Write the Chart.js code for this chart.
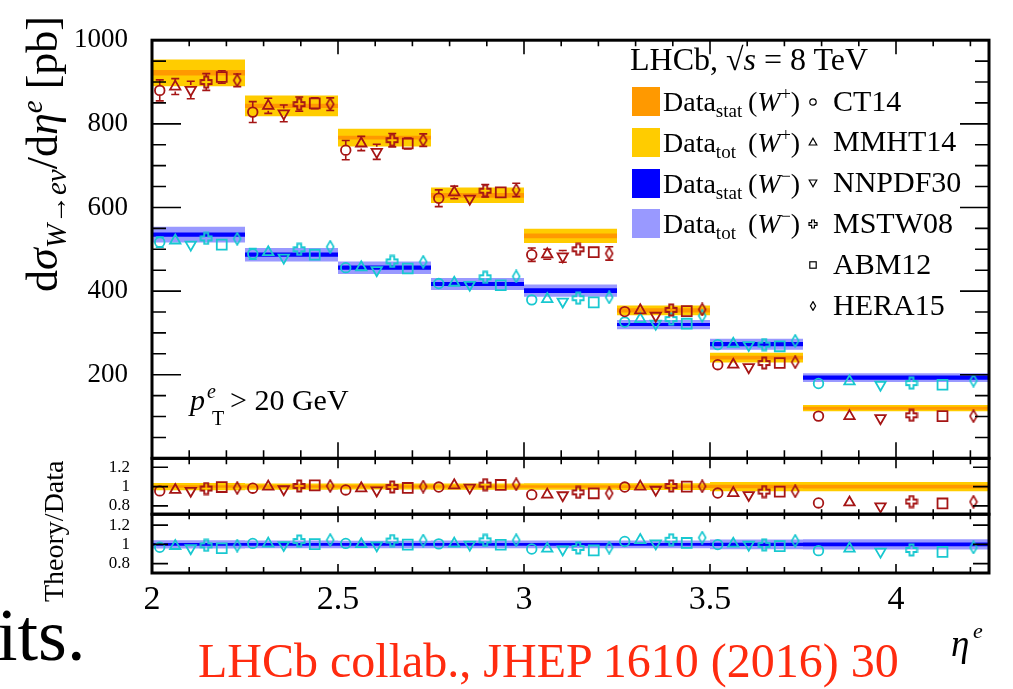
<!DOCTYPE html>
<html>
<head>
<meta charset="utf-8">
<script src="https://cdn.jsdelivr.net/npm/chart.js@4.4.0/dist/chart.umd.min.js"></script>
<style>
  body { margin: 0; background: #fff; }
  #wrap { position: relative; width: 1013px; height: 689px; overflow: hidden; background: #fff;
          font-family: "Liberation Serif", "DejaVu Serif", serif; color: #000; }
  #myChart { position: absolute; left: 0; top: 0; }
  .t { position: absolute; white-space: nowrap; line-height: 1; }
  .sub { font-size: 0.66em; position: relative; top: 0.3em; }
  .sup { font-size: 0.66em; position: relative; top: -0.5em; }
  .sw { position: absolute; width: 28px; height: 29px; }
  .mk { position: absolute; width: 10px; height: 10px; }
</style>
</head>
<body>
<div id="wrap">
  <canvas id="myChart" width="1013" height="689"></canvas>

  <div class="t" style="left:21px;top:292px;font-size:44px;transform-origin:0 0;transform:rotate(-90deg)">d<i>σ</i><span class="sub"><i>W</i>→<i>eν</i></span>/d<i>η</i><span class="sup"><i>e</i></span> [pb]</div>
  <div class="t" style="left:40px;top:602px;font-size:28px;transform-origin:0 0;transform:rotate(-90deg)">Theory/Data</div>

  <div class="t" style="left:630px;top:43px;font-size:32px">LHCb, √<i style="border-top:1.5px solid #000">s</i> = 8 TeV</div>
  <div id="legend"></div>

  <div class="t" style="left:190px;top:385px;font-size:30px"><i>p</i></div>
  <div class="t" style="left:207px;top:381px;font-size:20px"><i>e</i></div>
  <div class="t" style="left:212px;top:408px;font-size:20px">T</div>
  <div class="t" style="left:230px;top:385px;font-size:30px">&gt; 20 GeV</div>

  <div class="t" style="left:951px;top:625px;font-size:37px"><i>η</i></div>
  <div class="t" style="left:973px;top:620px;font-size:22px"><i>e</i></div>

  <div class="t" style="left:-3px;top:598px;font-size:74px">its.</div>
  <div class="t" style="left:198px;top:637px;font-size:48px;color:#ff2b0f">LHCb collab., JHEP 1610 (2016) 30</div>
</div>

<script>
// eta bin edges and axis tick labels
var binEdges = [2.0, 2.25, 2.5, 2.75, 3.0, 3.25, 3.5, 3.75, 4.25];
var xTickLabels = [2, 2.5, 3, 3.5, 4];
var yTickLabels = [200, 400, 600, 800, 1000];
var ratioTickLabels = [0.8, 1, 1.2];
var models = ["CT14", "MMHT14", "NNPDF30", "MSTW08", "ABM12", "HERA15"];

// measured dsigma/deta [pb], central value, stat and total uncertainty
var wpData = [922, 843, 767, 629, 532, 354, 241, 120];
var wpStat = [6.5, 5, 4.5, 5.5, 5.5, 5, 4.5, 3.5];
var wpTot  = [32, 25, 21.5, 18.5, 17, 11.5, 11.5, 7.5];
var wmData = [535, 487, 456, 417, 401, 320, 273, 193];
var wmStat = [5, 5, 5, 5, 5.5, 3.5, 5, 5];
var wmTot  = [19, 16, 15, 14.5, 14.5, 11, 13, 10.5];

// theory predictions, one row per model (same order as models)
var wpTheory = [
  [880, 828, 737, 622, 487, 351, 224, 101],
  [889, 843, 753, 636, 488, 354, 224, 101],
  [881, 825, 733, 621, 483, 341, 218, 96],
  [900, 847, 761, 640, 500, 355, 228, 103],
  [912, 849, 753, 636, 493, 352, 228, 101],
  [904, 847, 761, 642, 490, 356, 230, 101]
];
var wpTheoryErr = [
  [25, 25, 23, 20, 16, 9, 4, 3],
  [19, 18, 17, 15, 12, 8, 4, 3],
  [21, 20, 18, 8, 14, 6, 5, 3],
  [20, 17, 16, 15, 11, 8, 5, 3],
  [15, 13, 13, 10, 8, 5, 3, 2],
  [15, 15, 15, 16, 16, 10, 8, 6]
];
var wmTheory = [
  [517, 489, 456, 418, 379, 326, 272, 179],
  [521, 493, 457, 420, 381, 333, 274, 184],
  [511, 480, 450, 415, 375, 322, 271, 176],
  [526, 500, 471, 433, 383, 333, 272, 180],
  [511, 487, 454, 414, 373, 322, 268, 176],
  [525, 506, 470, 435, 385, 341, 281, 186]
];
var wmTheoryErr = [
  [12, 13, 10, 8, 6, 5, 4, 3],
  [10, 10, 8, 7, 5, 5, 4, 3],
  [11, 11, 9, 8, 6, 5, 4, 3],
  [10, 12, 9, 8, 6, 5, 4, 3],
  [6, 6, 5, 5, 4, 3, 3, 2],
  [10, 10, 9, 8, 8, 7, 6, 5]
];

// theory/data ratios
var wpRatio = [
  [0.955, 0.983, 0.965, 0.995, 0.916, 0.995, 0.933, 0.83],
  [0.965, 1.0, 0.982, 1.013, 0.916, 1.0, 0.933, 0.835],
  [0.956, 0.972, 0.96, 0.99, 0.91, 0.967, 0.912, 0.795],
  [0.98, 1.006, 0.996, 1.02, 0.94, 1.006, 0.948, 0.845],
  [0.995, 1.012, 0.986, 1.017, 0.93, 1.0, 0.948, 0.825],
  [0.985, 1.006, 1.0, 1.024, 0.93, 1.003, 0.952, 0.842]
];
var wmRatio = [
  [0.97, 1.01, 1.01, 1.005, 0.952, 1.03, 0.998, 0.935],
  [0.983, 1.008, 1.002, 1.008, 0.955, 1.045, 1.007, 0.957],
  [0.96, 0.993, 0.99, 0.997, 0.947, 1.011, 0.996, 0.925],
  [0.99, 1.035, 1.04, 1.042, 0.963, 1.048, 0.995, 0.942],
  [0.96, 1.003, 0.998, 0.996, 0.937, 1.015, 0.982, 0.922],
  [0.987, 1.045, 1.04, 1.043, 0.966, 1.07, 1.037, 0.968]
];
var wpRatioStat = [0.013, 0.013, 0.013, 0.013, 0.013, 0.015, 0.018, 0.02];
var wpRatioTot  = [0.037, 0.033, 0.031, 0.032, 0.034, 0.035, 0.048, 0.048];
var wmRatioStat = [0.014, 0.014, 0.014, 0.014, 0.015, 0.014, 0.018, 0.02];
var wmRatioTot  = [0.042, 0.04, 0.039, 0.04, 0.041, 0.04, 0.05, 0.053];

var serif = "'Liberation Serif', 'DejaVu Serif', serif";
var redCol = "#a51515", cyanCol = "#18c8d0";

// ROOT style open cross and thin diamond markers
function crossCanvas(color) {
    var c = document.createElement("canvas");
    c.width = 14; c.height = 14;
    var g = c.getContext("2d"), a = 2, b = 5.5, o = 7;
    var pts = [[-a,-b],[a,-b],[a,-a],[b,-a],[b,a],[a,a],[a,b],[-a,b],[-a,a],[-b,a],[-b,-a],[-a,-a]];
    g.strokeStyle = color; g.lineWidth = 1.8;
    g.beginPath();
    for (var i = 0; i < pts.length; i++) {
        if (i == 0) g.moveTo(o + pts[i][0], o + pts[i][1]);
        else g.lineTo(o + pts[i][0], o + pts[i][1]);
    }
    g.closePath(); g.stroke();
    return c;
}
function diamondCanvas(color) {
    var c = document.createElement("canvas");
    c.width = 10; c.height = 14;
    var g = c.getContext("2d");
    g.strokeStyle = color; g.lineWidth = 1.6;
    g.beginPath();
    g.moveTo(5, 1); g.lineTo(8.5, 7); g.lineTo(5, 13); g.lineTo(1.5, 7);
    g.closePath(); g.stroke();
    return c;
}
function markerStyles(color) {
    return [
        {style: "circle", r: 4.8, gap: 5},
        {style: "triangle", r: 6, gap: 5},
        {style: "triangle", r: 6, rot: 180, gap: 5},
        {style: crossCanvas(color), r: 6, gap: 6},
        {style: "rect", r: 7, gap: 5},
        {style: diamondCanvas(color), r: 6, gap: 6}
    ];
}

function stepPoints(centre, err, sign) {
    var pts = [];
    for (var i = 0; i < centre.length; i++) {
        pts.push({x: binEdges[i], y: centre[i] + sign * err[i]});
    }
    var n = centre.length - 1;
    pts.push({x: binEdges[n + 1], y: centre[n] + sign * err[n]});
    return pts;
}
function band(centre, err, color, axis, order) {
    var common = {yAxisID: axis, stepped: true, borderColor: "rgba(0,0,0,0)", borderWidth: 0, pointRadius: 0, order: order};
    return [
        Object.assign({data: stepPoints(centre, err, 1), fill: "+1", backgroundColor: color}, common),
        Object.assign({data: stepPoints(centre, err, -1), fill: false}, common)
    ];
}
function markers(rows, errs, color, axis) {
    var st = markerStyles(color);
    return rows.map(function(vals, k) {
        return {
            data: vals.map(function(v, i) {
                var lo = binEdges[i], hi = binEdges[i + 1];
                return {x: lo + (k + 0.5) * (hi - lo) / models.length, y: v};
            }),
            errs: errs ? errs[k] : null,
            gap: st[k].gap,
            yAxisID: axis,
            showLine: false,
            borderColor: color,
            backgroundColor: "rgba(0,0,0,0)",
            pointStyle: st[k].style,
            pointRadius: st[k].r,
            pointRotation: st[k].rot || 0,
            pointBorderWidth: 1.8,
            order: 1
        };
    });
}

var ones = wpData.map(function() { return 1; });
var datasets = [].concat(
    band(wpData, wpTot, "#ffcc00", "y", 4),
    band(wmData, wmTot, "#9999ff", "y", 4),
    band(wpData, wpStat, "#ff9900", "y", 3),
    band(wmData, wmStat, "#0000ff", "y", 3),
    band(ones, wpRatioTot, "#ffcc00", "r1", 4),
    band(ones, wpRatioStat, "#ff9900", "r1", 3),
    band(ones, wmRatioTot, "#9999ff", "r2", 4),
    band(ones, wmRatioStat, "#0000ff", "r2", 3),
    markers(wpTheory, wpTheoryErr, redCol, "y"),
    markers(wmTheory, wmTheoryErr, cyanCol, "y"),
    markers(wpRatio, null, redCol, "r1"),
    markers(wmRatio, null, cyanCol, "r2")
);

// vertical error bars, with a gap round the open marker
var errorBars = {
    id: "errorBars",
    beforeDatasetDraw: function(chart, args) {
        var ds = chart.data.datasets[args.index];
        if (!ds.errs) return;
        var sc = chart.scales[ds.yAxisID], ctx = chart.ctx;
        ctx.save();
        ctx.strokeStyle = ds.borderColor;
        ctx.lineWidth = 1.6;
        ctx.beginPath();
        args.meta.data.forEach(function(pt, i) {
            var v = ds.data[i].y, e = ds.errs[i];
            var top = sc.getPixelForValue(v + e), bot = sc.getPixelForValue(v - e);
            if (top < pt.y - ds.gap) {
                ctx.moveTo(pt.x, top); ctx.lineTo(pt.x, pt.y - ds.gap);
                ctx.moveTo(pt.x - 4, top); ctx.lineTo(pt.x + 4, top);
            }
            if (bot > pt.y + ds.gap) {
                ctx.moveTo(pt.x, pt.y + ds.gap); ctx.lineTo(pt.x, bot);
                ctx.moveTo(pt.x - 4, bot); ctx.lineTo(pt.x + 4, bot);
            }
        });
        ctx.stroke();
        ctx.restore();
    }
};

// frames and inward ticks on all four sides of each pad
var padTicks = {
    y:  {yStep: 50, yMajor: 200, yLen: [14, 29], xTop: [6, 14], xBot: [8, 16]},
    r1: {yList: ratioTickLabels, yLen: [16, 16], xTop: [6, 10], xBot: [5, 8]},
    r2: {yList: ratioTickLabels, yLen: [16, 16], xTop: [5, 8], xBot: [6, 9]}
};
var rootAxes = {
    id: "rootAxes",
    afterDraw: function(chart) {
        var ctx = chart.ctx, xs = chart.scales.x;
        var L = chart.chartArea.left, R = chart.chartArea.right;
        ctx.save();
        ctx.strokeStyle = "#000";
        Object.keys(padTicks).forEach(function(id) {
            var ys = chart.scales[id], st = padTicks[id], T = ys.top, B = ys.bottom;
            var yt = [];
            if (st.yList) {
                st.yList.forEach(function(v) { yt.push([v, st.yLen[1]]); });
            } else {
                for (var v = st.yStep; v < ys.max; v += st.yStep) {
                    yt.push([v, v % st.yMajor == 0 ? st.yLen[1] : st.yLen[0]]);
                }
            }
            ctx.lineWidth = 1.6;
            ctx.beginPath();
            yt.forEach(function(t) {
                var p = ys.getPixelForValue(t[0]);
                ctx.moveTo(L, p); ctx.lineTo(L + t[1], p);
                ctx.moveTo(R, p); ctx.lineTo(R - t[1], p);
            });
            for (var i = 21; i <= 42; i++) {
                var p = xs.getPixelForValue(i / 10), major = (i % 5 == 0) ? 1 : 0;
                ctx.moveTo(p, T); ctx.lineTo(p, T + st.xTop[major]);
                ctx.moveTo(p, B); ctx.lineTo(p, B - st.xBot[major]);
            }
            ctx.stroke();
            ctx.lineWidth = 3;
            ctx.strokeRect(L, T, R - L, B - T);
        });
        ctx.restore();
    }
};

function yAxis(weight, min, max, labels, size, pad) {
    return {
        type: "linear", position: "left", stack: "pads", stackWeight: weight,
        min: min, max: max,
        grid: {display: false, drawTicks: false},
        border: {display: false},
        ticks: {font: {family: serif, size: size}, color: "#000", padding: pad,
                autoSkip: false,
                callback: function(v) { return String(v); }},
        afterBuildTicks: function(s) { s.ticks = labels.map(function(v) { return {value: v}; }); },
        afterFit: function(s) { s.width = 152; }
    };
}

var canvas = document.getElementById("myChart");
var ctx = canvas.getContext("2d");
var myNewChart = new Chart(ctx, {
    type: "line",
    data: {datasets: datasets},
    options: {
        responsive: false,
        animation: false,
        layout: {padding: {top: 20, right: 24, bottom: 0, left: 0}},
        plugins: {legend: {display: false}, tooltip: {enabled: false}},
        scales: {
            x: {
                type: "linear", position: "bottom", min: 2, max: 4.25,
                grid: {display: false, drawTicks: false},
                border: {display: false},
                ticks: {font: {family: serif, size: 34}, color: "#000", padding: 7,
                        autoSkip: false, maxRotation: 0,
                        callback: function(v) { return String(v); }},
                afterBuildTicks: function(s) { s.ticks = xTickLabels.map(function(v) { return {value: v}; }); },
                afterFit: function(s) { s.height = 116; }
            },
            r2: yAxis(61, 0.703, 1.313, ratioTickLabels, 17, 22),
            r1: yAxis(58, 0.713, 1.293, ratioTickLabels, 17, 22),
            y: yAxis(434, 0, 1000, yTickLabels, 27, 24)
        }
    },
    plugins: [errorBars, rootAxes]
});

// legend: data bands on the left, theory markers on the right
var legendShapes = [
    '<circle cx="5" cy="5" r="3.2" fill="none" stroke="#000" stroke-width="1.2"/>',
    '<polygon points="5,1.3 8.8,8 1.2,8" fill="none" stroke="#000" stroke-width="1.2"/>',
    '<polygon points="1.2,2 8.8,2 5,8.7" fill="none" stroke="#000" stroke-width="1.2"/>',
    '<polygon points="3.6,1 6.4,1 6.4,3.6 9,3.6 9,6.4 6.4,6.4 6.4,9 3.6,9 3.6,6.4 1,6.4 1,3.6 3.6,3.6" fill="none" stroke="#000" stroke-width="1.2"/>',
    '<rect x="1.8" y="1.8" width="6.4" height="6.4" fill="none" stroke="#000" stroke-width="1.2"/>',
    '<polygon points="5,0.6 7.6,5 5,9.4 2.4,5" fill="none" stroke="#000" stroke-width="1.2"/>'
];
var bandKeys = [
    {color: "#ff9900", kind: "stat", sign: "+"},
    {color: "#ffcc00", kind: "tot", sign: "+"},
    {color: "#0000ff", kind: "stat", sign: "−"},
    {color: "#9999ff", kind: "tot", sign: "−"}
];
var html = "";
for (var i = 0; i < models.length; i++) {
    var dy = 40.8 * i;
    if (i < bandKeys.length) {
        var b = bandKeys[i];
        html += '<div class="sw" style="left:632px;top:' + (87 + dy) + 'px;background:' + b.color + '"></div>';
        html += '<div class="t" style="left:663px;top:' + (88 + dy) + 'px;font-size:28px">Data<span style="font-size:19px;position:relative;top:6px">' + b.kind + '</span></div>';
        html += '<div class="t" style="left:748px;top:' + (88 + dy) + 'px;font-size:28px">(<i>W</i><span style="font-size:18px;position:relative;top:-11px">' + b.sign + '</span>)</div>';
    }
    html += '<svg class="mk" viewBox="0 0 10 10" style="left:808px;top:' + (96.5 + dy) + 'px">' + legendShapes[i] + '</svg>';
    html += '<div class="t" style="left:833px;top:' + (85.6 + dy) + 'px;font-size:30px">' + models[i] + '</div>';
}
document.getElementById("legend").innerHTML = html;
</script>
</body>
</html>
